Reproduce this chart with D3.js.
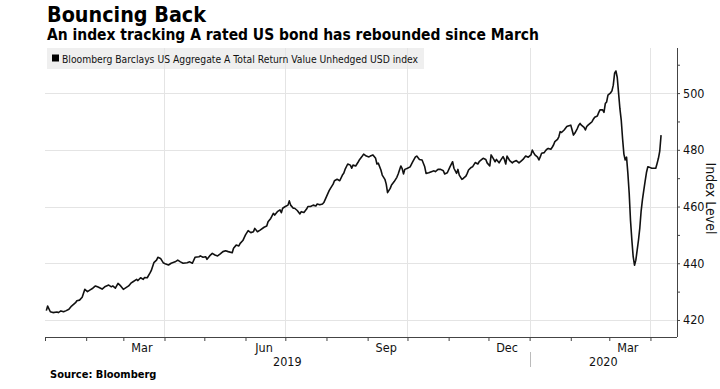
<!DOCTYPE html>
<html><head><meta charset="utf-8">
<script src="https://cdn.jsdelivr.net/npm/d3@7"></script>
<style>
html,body{margin:0;padding:0;background:#fff;}
svg{display:block;font-family:"DejaVu Sans Condensed","DejaVu Sans",sans-serif;font-stretch:condensed;}
</style></head><body>
<svg id="chart" width="720" height="389"></svg>
<script>
const titleText = "Bouncing Back";
const subtitleText = "An index tracking A rated US bond has rebounded since March";
const legendText = "Bloomberg Barclays US Aggregate A Total Return Value Unhedged USD index";
const sourceText = "Source: Bloomberg";
const yAxisTitle = "Index Level";

const dates = [
"2019-01-02","2019-01-03","2019-01-05","2019-01-07","2019-01-10","2019-01-11","2019-01-13","2019-01-15","2019-01-17","2019-01-19",
"2019-01-21","2019-01-24","2019-01-25","2019-01-27","2019-01-29","2019-01-30","2019-01-31","2019-02-02","2019-02-04","2019-02-06",
"2019-02-08","2019-02-10","2019-02-13","2019-02-15","2019-02-18","2019-02-20","2019-02-21","2019-02-23","2019-02-25","2019-02-27",
"2019-03-01","2019-03-03","2019-03-05","2019-03-07","2019-03-08","2019-03-11","2019-03-12","2019-03-14","2019-03-16","2019-03-17",
"2019-03-19","2019-03-21","2019-03-22","2019-03-24","2019-03-26","2019-03-27","2019-03-29","2019-03-31","2019-04-02","2019-04-04",
"2019-04-06","2019-04-09","2019-04-11","2019-04-13","2019-04-15","2019-04-18","2019-04-20","2019-04-22","2019-04-24","2019-04-27",
"2019-04-28","2019-04-30","2019-05-02","2019-05-03","2019-05-05","2019-05-07","2019-05-09","2019-05-11","2019-05-13","2019-05-15",
"2019-05-17","2019-05-19","2019-05-22","2019-05-23","2019-05-25","2019-05-27","2019-05-28","2019-05-30","2019-06-01","2019-06-03",
"2019-06-05","2019-06-07","2019-06-08","2019-06-10","2019-06-12","2019-06-15","2019-06-17","2019-06-18","2019-06-20","2019-06-22",
"2019-06-23","2019-06-25","2019-06-27","2019-06-28","2019-06-29","2019-07-01","2019-07-03","2019-07-04","2019-07-05","2019-07-07",
"2019-07-08","2019-07-10","2019-07-12","2019-07-13","2019-07-15","2019-07-17","2019-07-18","2019-07-20","2019-07-22","2019-07-24",
"2019-07-25","2019-07-27","2019-07-29","2019-07-30","2019-08-01","2019-08-03","2019-08-04","2019-08-06","2019-08-07","2019-08-09",
"2019-08-11","2019-08-13","2019-08-14","2019-08-15","2019-08-17","2019-08-19","2019-08-20","2019-08-21","2019-08-23","2019-08-25",
"2019-08-26","2019-08-28","2019-08-29","2019-08-31","2019-09-02","2019-09-03","2019-09-05","2019-09-07","2019-09-08","2019-09-09",
"2019-09-11","2019-09-12","2019-09-14","2019-09-15","2019-09-16","2019-09-18","2019-09-19","2019-09-21","2019-09-23","2019-09-24",
"2019-09-26","2019-09-27","2019-09-28","2019-09-29","2019-10-01","2019-10-03","2019-10-05","2019-10-07","2019-10-08","2019-10-10",
"2019-10-12","2019-10-14","2019-10-15","2019-10-17","2019-10-19","2019-10-21","2019-10-22","2019-10-24","2019-10-26","2019-10-28",
"2019-10-29","2019-10-31","2019-11-02","2019-11-04","2019-11-05","2019-11-07","2019-11-08","2019-11-09","2019-11-11","2019-11-12",
"2019-11-14","2019-11-15","2019-11-16","2019-11-18","2019-11-19","2019-11-21","2019-11-23","2019-11-24","2019-11-26","2019-11-27",
"2019-11-29","2019-11-30","2019-12-02","2019-12-03","2019-12-05","2019-12-06","2019-12-07","2019-12-09","2019-12-10","2019-12-12",
"2019-12-13","2019-12-14","2019-12-15","2019-12-17","2019-12-19","2019-12-20","2019-12-22","2019-12-24","2019-12-26","2019-12-27",
"2019-12-29","2019-12-31","2020-01-02","2020-01-03","2020-01-04","2020-01-05","2020-01-07","2020-01-08","2020-01-09","2020-01-10",
"2020-01-12","2020-01-13","2020-01-14","2020-01-15","2020-01-17","2020-01-18","2020-01-19","2020-01-20","2020-01-22","2020-01-23",
"2020-01-24","2020-01-25","2020-01-27","2020-01-28","2020-01-29","2020-01-30","2020-02-01","2020-02-02","2020-02-03","2020-02-04",
"2020-02-06","2020-02-07","2020-02-08","2020-02-09","2020-02-11","2020-02-12","2020-02-13","2020-02-14","2020-02-16","2020-02-17",
"2020-02-18","2020-02-19","2020-02-21","2020-02-22","2020-02-23","2020-02-25","2020-02-26","2020-02-27","2020-02-28","2020-02-29",
"2020-03-02","2020-03-03","2020-03-04","2020-03-05","2020-03-06","2020-03-07","2020-03-08","2020-03-09","2020-03-10","2020-03-11",
"2020-03-12","2020-03-13","2020-03-14","2020-03-15","2020-03-16","2020-03-17","2020-03-18","2020-03-19","2020-03-20","2020-03-21",
"2020-03-22","2020-03-23","2020-03-24","2020-03-25","2020-03-26","2020-03-27","2020-03-28","2020-03-29","2020-03-30","2020-03-31",
"2020-04-02","2020-04-04","2020-04-05","2020-04-06","2020-04-07","2020-04-08","2020-04-09"
];
const values = [
423.3,424.9,422.9,422.6,422.8,422.6,423.2,422.9,423.3,423.8,
424.9,426.1,426.8,427.0,428.0,429.4,430.8,430.0,430.6,431.2,
432.0,431.6,430.9,431.7,432.3,431.7,432.0,431.2,432.9,432.0,
430.8,431.4,432.0,433.1,433.4,434.3,433.9,434.9,434.3,435.0,
434.9,436.5,437.4,440.2,441.1,442.1,441.7,440.2,439.7,439.4,
440.0,440.5,441.1,440.5,440.0,440.2,440.5,440.0,442.1,442.3,
442.6,442.1,442.3,441.4,442.6,443.5,442.9,442.6,443.3,444.1,
444.4,444.1,443.7,445.3,446.4,446.1,447.0,448.0,450.0,451.5,
450.8,451.1,452.3,451.1,451.7,452.7,453.1,454.6,455.8,457.6,
457.0,458.2,458.8,457.8,459.4,460.0,460.5,462.0,460.5,459.4,
459.4,458.6,457.4,458.2,457.9,459.1,460.0,460.0,460.5,460.2,
460.9,460.6,460.9,461.4,463.5,465.6,466.4,467.9,469.1,469.6,
469.1,471.1,471.7,473.1,475.0,474.6,473.5,474.6,474.3,475.8,
476.6,477.8,478.5,477.8,477.5,477.8,478.2,477.0,475.0,475.3,
472.9,471.1,469.6,467.9,464.9,466.4,467.6,468.8,470.3,471.5,
474.3,473.4,471.5,473.1,473.5,474.0,475.8,477.5,477.8,476.6,
476.4,474.0,471.7,471.9,472.3,472.6,472.3,473.1,473.1,472.6,
471.5,471.9,474.0,475.8,473.5,471.7,473.1,471.1,469.6,469.9,
470.7,471.7,472.9,473.8,474.0,475.5,475.0,475.8,476.6,477.0,
476.6,475.4,474.3,478.2,476.6,475.8,476.6,475.4,476.2,477.6,
476.6,475.0,477.8,476.2,475.4,475.8,476.2,475.4,476.2,476.6,
477.8,477.4,478.2,479.9,479.0,478.2,477.4,476.4,477.5,478.8,
479.0,479.7,480.2,480.5,480.2,480.9,481.7,482.9,483.7,484.6,
486.4,486.1,487.0,487.6,488.2,488.4,488.7,487.0,485.2,485.8,
487.6,488.7,489.3,488.7,487.9,487.0,488.2,488.7,489.5,489.9,
490.8,491.5,491.9,493.1,494.1,494.1,493.2,496.3,496.9,499.3,
500.1,500.8,502.8,507.0,507.8,505.5,500.0,494.5,490.5,484.0,
478.5,476.4,477.4,471.7,464.6,455.0,448.2,442.3,439.3,441.1,
444.6,448.2,452.5,458.5,462.5,465.8,469.0,472.0,474.0,473.9,
473.5,473.5,473.5,475.2,477.0,479.5,485.2
];

const yTickValues = [420, 440, 460, 480, 500];
const yMinorTickValues = [430, 450, 470, 490, 510];
const monthLabels = ["Mar", "Jun", "Sep", "Dec", "Mar"];
const monthLabelDates = ["2019-03-15", "2019-06-15", "2019-09-15", "2019-12-15", "2020-03-15"];
const gridDates = ["2019-04-01", "2019-07-01", "2019-10-01", "2020-01-01", "2020-04-01"];
const yearLabels = ["2019", "2020"];
const xDomain = ["2019-01-01", "2020-04-21"];
const yDomain = [414, 515.9];

const parse = d3.utcParse("%Y-%m-%d");
const data = dates.map((d, i) => ({date: parse(d), value: values[i]}));

const W = 720, H = 389;
const plot = {left: 45, right: 677, top: 48, bottom: 337};

const svg = d3.select("#chart");

const x = d3.scaleUtc().domain(xDomain.map(parse)).range([plot.left, plot.right]);
const y = d3.scaleLinear().domain(yDomain).range([plot.bottom, plot.top]);

// Title & subtitle
svg.append("text").attr("x", 47).attr("y", 22)
  .attr("font-size", 21).attr("font-weight", "bold").attr("fill", "#000")
  .attr("textLength", 159).attr("lengthAdjust", "spacingAndGlyphs")
  .text(titleText);
svg.append("text").attr("x", 47).attr("y", 40)
  .attr("font-size", 15).attr("font-weight", "bold").attr("fill", "#000")
  .attr("textLength", 492).attr("lengthAdjust", "spacingAndGlyphs")
  .text(subtitleText);

// Legend box
svg.append("rect").attr("x", 47).attr("y", 48).attr("width", 377).attr("height", 21)
  .attr("fill", "#efefef");
svg.append("rect").attr("x", 52).attr("y", 54.5).attr("width", 7).attr("height", 7).attr("fill", "#000");

// Gridlines
const g = svg.append("g");
g.selectAll(".vg").data(gridDates.map(parse)).join("line")
  .attr("x1", d => Math.round(x(d)) + 0.5).attr("x2", d => Math.round(x(d)) + 0.5)
  .attr("y1", plot.top).attr("y2", plot.bottom)
  .attr("stroke", "#e4e4e4").attr("stroke-width", 1);
g.selectAll(".hg").data(yTickValues).join("line")
  .attr("x1", plot.left).attr("x2", plot.right)
  .attr("y1", d => Math.round(y(d)) + 0.5).attr("y2", d => Math.round(y(d)) + 0.5)
  .attr("stroke", "#e4e4e4").attr("stroke-width", 1);

svg.append("text").attr("x", 62).attr("y", 63)
  .attr("font-size", 11).attr("fill", "#111")
  .attr("textLength", 356).attr("lengthAdjust", "spacingAndGlyphs")
  .text(legendText);

// Right axis
const yAxis = d3.axisRight(y).tickValues(yTickValues).tickSize(3).tickPadding(3).tickFormat(d3.format("d"));
const ya = svg.append("g").attr("transform", `translate(${plot.right},0)`).call(yAxis);
ya.select(".domain").attr("stroke", "#444").attr("d", `M0.5,${plot.top}V${plot.bottom}`);
ya.selectAll(".tick line").attr("stroke", "#444");
ya.selectAll(".tick text").attr("font-size", 12.5).attr("fill", "#111")
  .attr("font-family", '"DejaVu Sans Condensed","DejaVu Sans",sans-serif');
const yMinor = d3.axisRight(y).tickValues(yMinorTickValues).tickSize(3).tickFormat("");
const ym = svg.append("g").attr("transform", `translate(${plot.right},0)`).call(yMinor);
ym.select(".domain").remove();
ym.selectAll(".tick line").attr("stroke", "#444");

svg.append("text")
  .attr("transform", `translate(706,${(plot.top + plot.bottom) / 2 + 6}) rotate(90)`)
  .attr("text-anchor", "middle").attr("font-size", 14).attr("fill", "#111")
  .text(yAxisTitle);

// Bottom axis: month ticks
const xAxis = d3.axisBottom(x).ticks(d3.utcMonth.every(1)).tickSize(4).tickFormat("");
const xa = svg.append("g").attr("transform", `translate(0,${plot.bottom})`).call(xAxis);
xa.select(".domain").attr("stroke", "#444").attr("d", `M${plot.left},0.5H${plot.right}`);
xa.selectAll(".tick line").attr("stroke", "#444");

// Month labels
svg.append("g").selectAll("text").data(monthLabels).join("text")
  .attr("x", (d, i) => x(parse(monthLabelDates[i])))
  .attr("y", 352).attr("text-anchor", "middle").attr("font-size", 12.5).attr("fill", "#111")
  .text(d => d);

// Year labels, centered in their visible span
const yearStart = [parse("2019-01-01"), parse("2020-01-01")];
const yearEnd = [parse("2020-01-01"), x.domain()[1]];
svg.append("g").selectAll("text").data(yearLabels).join("text")
  .attr("x", (d, i) => (x(d3.max([yearStart[i], x.domain()[0]])) + x(yearEnd[i])) / 2)
  .attr("y", 366).attr("text-anchor", "middle").attr("font-size", 12.5).attr("fill", "#111")
  .text(d => d);
svg.append("line")
  .attr("x1", Math.round(x(parse("2020-01-01"))) + 0.5).attr("x2", Math.round(x(parse("2020-01-01"))) + 0.5)
  .attr("y1", 352).attr("y2", 367).attr("stroke", "#bbb");

// Source
svg.append("text").attr("x", 50).attr("y", 378)
  .attr("font-size", 11).attr("font-weight", "bold").attr("fill", "#000")
  .text(sourceText);

// Line
const line = d3.line().x(d => x(d.date)).y(d => y(d.value));
svg.append("path").datum(data)
  .attr("fill", "none").attr("stroke", "#111").attr("stroke-width", 1.6)
  .attr("stroke-linejoin", "round").attr("d", line);
</script>
</body></html>
